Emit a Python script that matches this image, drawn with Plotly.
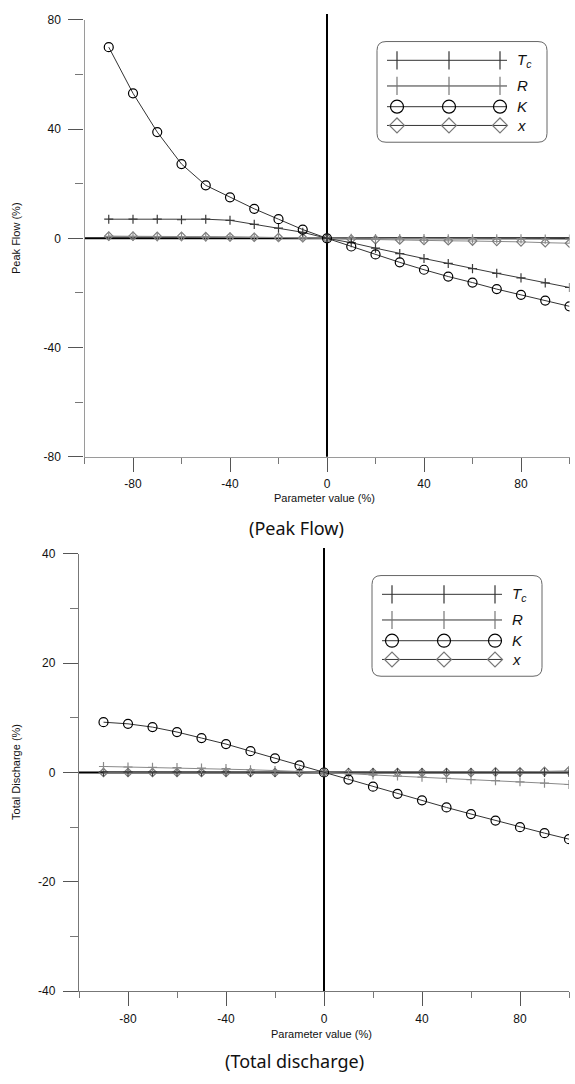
import plotly.graph_objects as go

# Parameter change (%) applied to each model parameter
param = [-90, -80, -70, -60, -50, -40, -30, -20, -10, 0,
         10, 20, 30, 40, 50, 60, 70, 80, 90, 100]

# Change in peak flow (%)
peak_tc = [7.0, 7.0, 7.0, 6.8, 7.0, 6.6, 5.1, 3.7, 2.2, 0.0,
           -1.6, -3.6, -5.6, -7.4, -9.2, -11.1, -12.8, -14.5, -16.3, -18.0]
peak_r = [0.7, 0.7, 0.6, 0.6, 0.5, 0.5, 0.4, 0.3, 0.2, 0.0,
          0.0, -0.1, -0.1, -0.1, -0.2, -0.2, -0.2, -0.2, -0.3, -0.3]
peak_k = [70.0, 53.1, 38.9, 27.2, 19.4, 15.0, 10.8, 7.0, 3.2, 0.0,
          -3.0, -5.9, -8.8, -11.5, -14.0, -16.2, -18.6, -20.7, -22.8, -24.9]
peak_x = [0.8, 0.8, 0.7, 0.7, 0.6, 0.5, 0.4, 0.3, 0.2, 0.0,
          -0.3, -0.5, -0.6, -0.8, -0.9, -1.0, -1.1, -1.3, -1.6, -1.8]

# Change in total discharge (%)
vol_tc = [0.1, 0.1, 0.1, 0.1, 0.1, 0.1, 0.0, 0.0, 0.0, 0.0,
          0.0, 0.0, 0.0, 0.0, 0.0, 0.0, 0.0, 0.0, 0.0, 0.0]
vol_r = [1.1, 1.0, 0.95, 0.9, 0.8, 0.7, 0.5, 0.35, 0.2, 0.0,
         -0.2, -0.45, -0.65, -0.85, -1.05, -1.3, -1.5, -1.7, -1.95, -2.2]
vol_k = [9.2, 8.9, 8.3, 7.4, 6.3, 5.2, 3.9, 2.6, 1.3, 0.0,
         -1.3, -2.6, -3.9, -5.1, -6.4, -7.6, -8.8, -10.0, -11.1, -12.2]
vol_x = [0.0, 0.0, 0.0, 0.0, 0.0, 0.0, 0.0, 0.0, 0.0, 0.0,
         0.0, 0.0, 0.0, 0.0, 0.0, 0.0, 0.1, 0.1, 0.2, 0.3]

# axis tick labels (plain hyphen minus)
x_ticks = [-80, -40, 0, 40, 80]
peak_ticks = [-80, -40, 0, 40, 80]
vol_ticks = [-40, -20, 0, 20, 40]
legend_labels = ["<i>T<sub>c</sub></i>", "<i>R</i>", "<i>K</i>", "<i>x</i>"]

W, H = 575, 1084
TICK_FONT = dict(family="Arial, Liberation Sans, sans-serif", size=12, color="#111")


def px(x):
    return x / W


def py(y):
    return 1 - y / H


# style for each parameter
styles = {
    "tc": dict(line="#3a3a3a", symbol="cross-thin-open", size=6.5, mcolor="#3a3a3a"),
    "r": dict(line="#8a8a8a", symbol="cross-thin-open", size=6.5, mcolor="#8a8a8a"),
    "k": dict(line="#333333", symbol="circle-open", size=9, mcolor="#000000"),
    "x": dict(line="#8a8a8a", symbol="diamond-open", size=6.5, mcolor="#7a7a7a"),
}

fig = go.Figure()


def add_series(values, key, xa, ya):
    s = styles[key]
    fig.add_trace(go.Scatter(
        x=param, y=values, mode="lines+markers", xaxis=xa, yaxis=ya,
        line=dict(color=s["line"], width=1),
        marker=dict(symbol=s["symbol"], size=s["size"], color=s["mcolor"],
                    line=dict(color=s["mcolor"], width=1.2)),
        showlegend=False, hoverinfo="skip"))


# peak-flow panel
add_series(peak_x, "x", "x", "y")
add_series(peak_r, "r", "x", "y")
add_series(peak_tc, "tc", "x", "y")
add_series(peak_k, "k", "x", "y")

# total-discharge panel
add_series(vol_x, "x", "x2", "y2")
add_series(vol_tc, "tc", "x2", "y2")
add_series(vol_r, "r", "x2", "y2")
add_series(vol_k, "k", "x2", "y2")

# legend boxes, drawn on a pixel-space overlay axis
legend_boxes = [
    dict(x0=377, x1=547, y0=35, y1=137, rows=[54, 80, 101, 120]),
    dict(x0=372, x1=542, y0=576, y1=678, rows=[595, 621, 642, 661]),
]
legend_markers = {
    "tc": ("line-ns-open", 13, "#333"),
    "r": ("line-ns-open", 13, "#777"),
    "k": ("circle-open", 13, "#000"),
    "x": ("diamond-open", 11.5, "#777"),
}
shapes = []
annotations = []
for box in legend_boxes:
    r = 9
    x0, x1, y0, y1 = box["x0"], box["x1"], box["y0"], box["y1"]
    path = (f"M{x0 + r},{y0} L{x1 - r},{y0} Q{x1},{y0} {x1},{y0 + r} "
            f"L{x1},{y1 - r} Q{x1},{y1} {x1 - r},{y1} L{x0 + r},{y1} "
            f"Q{x0},{y1} {x0},{y1 - r} L{x0},{y0 + r} Q{x0},{y0} {x0 + r},{y0} Z")
    shapes.append(dict(type="path", path=path, xref="x3", yref="y3",
                       line=dict(color="#666", width=1), fillcolor="white", layer="below"))
    for key, row, label_text in zip(["tc", "r", "k", "x"], box["rows"], legend_labels):
        sym, size, col = legend_markers[key]
        # sample line
        fig.add_trace(go.Scatter(
            x=[x0 + 10, x0 + 130], y=[row, row], mode="lines", xaxis="x3", yaxis="y3",
            line=dict(color="#333", width=1), showlegend=False, hoverinfo="skip"))
        # three sample markers on it
        fig.add_trace(go.Scatter(
            x=[x0 + 20, x0 + 72, x0 + 123], y=[row] * 3, mode="markers",
            xaxis="x3", yaxis="y3",
            marker=dict(symbol=sym, size=size, color=col, line=dict(color=col, width=1.2)),
            showlegend=False, hoverinfo="skip"))
        annotations.append(dict(x=x0 + 138, y=row, xref="x3", yref="y3", text=label_text,
                                showarrow=False, xanchor="left", yanchor="middle",
                                font=dict(family="Arial, Liberation Sans, sans-serif",
                                          size=15, color="#111")))

# thick zero lines through the origin of each panel
shapes += [
    dict(type="line", xref="x", yref="y", x0=-100, x1=100, y0=0, y1=0,
         line=dict(color="black", width=2), layer="below"),
    dict(type="line", xref="x", yref="paper", x0=0, x1=0, y0=py(455.7), y1=py(7),
         line=dict(color="black", width=2), layer="below"),
    dict(type="line", xref="x2", yref="y2", x0=-100, x1=100, y0=0, y1=0,
         line=dict(color="black", width=2), layer="below"),
    dict(type="line", xref="x2", yref="paper", x0=0, x1=0, y0=py(997), y1=py(548),
         line=dict(color="black", width=2), layer="below"),
]

small = dict(family="Arial, Liberation Sans, sans-serif", size=11, color="#111")
caption = dict(family="Noto Sans, Open Sans, sans-serif", size=18, color="#111")


def label(x, y, text, font, angle=0):
    return dict(x=px(x), y=py(y), xref="paper", yref="paper", text=text,
                showarrow=False, xanchor="center", yanchor="middle",
                textangle=angle, font=font)


annotations += [
    label(324, 497, "Parameter value (%)", small),
    label(321, 1040, "Parameter value (%)", small),
    label(16, 234, "Peak Flow (%)", small, -90),
    label(16, 775, "Total Discharge (%)", small, -90),
    label(296, 528, "(Peak Flow)", caption),
    label(294, 1068, "(Total discharge)", caption),
]


def xaxis(domain, anchor, color):
    return dict(domain=domain, anchor=anchor, range=[-100, 100],
                tickvals=x_ticks, ticktext=[str(v) for v in x_ticks],
                ticks="outside", ticklen=14,
                tickcolor="#555", tickwidth=1, ticklabelstandoff=2,
                minor=dict(tick0=0, dtick=20, ticks="outside", ticklen=6,
                           tickcolor="#777", tickwidth=1),
                showline=True, linecolor=color, linewidth=1.3,
                showgrid=False, zeroline=False, tickfont=TICK_FONT, fixedrange=True)


def yaxis(domain, anchor, rng, ticks, minor, color):
    return dict(domain=domain, anchor=anchor, range=rng,
                tickvals=ticks, ticktext=[str(v) for v in ticks],
                ticks="outside", ticklen=15, tickcolor="#555", tickwidth=1,
                ticklabelstandoff=5,
                minor=dict(tick0=0, dtick=minor, ticks="outside", ticklen=8,
                           tickcolor="#777", tickwidth=1),
                showline=True, linecolor=color, linewidth=1.3,
                showgrid=False, zeroline=False, tickfont=TICK_FONT, fixedrange=True)


fig.update_layout(
    width=W, height=H, margin=dict(l=0, r=0, t=0, b=0),
    paper_bgcolor="white", plot_bgcolor="rgba(0,0,0,0)",
    xaxis=xaxis([px(84.5), px(569.5)], "y", "#9a9a9a"),
    yaxis=yaxis([py(455.7), py(13)], "x", [-80, 80], peak_ticks, 20, "#9a9a9a"),
    xaxis2=xaxis([px(79), px(569)], "y2", "#777"),
    yaxis2=yaxis([py(997), py(554)], "x2", [-40, 40], vol_ticks, 10, "#777"),
    xaxis3=dict(domain=[0, 1], anchor="y3", range=[0, W], visible=False, fixedrange=True),
    yaxis3=dict(domain=[0, 1], anchor="x3", range=[H, 0], visible=False, fixedrange=True),
    shapes=shapes, annotations=annotations, showlegend=False,
)

fig.write_html("out.html")
